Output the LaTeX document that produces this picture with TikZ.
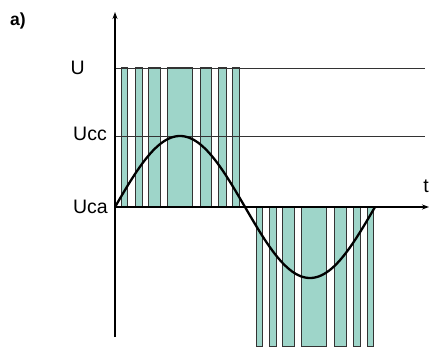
\documentclass[tikz,border=0pt]{standalone}
\usepackage{fontspec}
\setmainfont{Liberation Sans}
\usetikzlibrary{arrows.meta}
\definecolor{pulse}{RGB}{158,213,201}
\tikzset{
  pulsebox/.style={fill=pulse,draw=black!80,line width=1pt},
  level/.style={draw=black!80,line width=0.7pt},
  axisline/.style={draw=black,line width=1.4pt,-{Stealth[length=7pt,width=5pt]}},
  lbl/.style={font=\fontsize{19.5}{22}\selectfont,inner sep=0pt,anchor=base east},
}
\begin{document}
\begin{tikzpicture}[x=1pt,y=-1pt]
\useasboundingbox (0,0) rectangle (430,347);
% positive pulses
\foreach \a/\b in {121/127.5,135.3/142.3,148.7/160.3,167.5/192.3,200/211.7,218.5/226.5,232.5/239}
  \path[pulsebox] (\a,68) rectangle (\b,207);
% negative pulses
\foreach \a/\b in {256/262.3,269.3/276.5,282.5/294.7,301.3/326.5,334.3/346.2,353.3/360.3,367.3/373.5}
  \path[pulsebox] (\a,207) rectangle (\b,346);
% levels
\coordinate (uL) at (115,68); \coordinate (uR) at (425,68);
\coordinate (ucL) at (115,136); \coordinate (ucR) at (425,136);
\draw[level] (uL) -- (uR);
\draw[level] (ucL) -- (ucR);
% sine
\draw[line width=2.3pt,line join=round] plot[domain=0:260,samples=120,smooth] ({115+\x},{207-71*sin(\x*1.384615)});
% axes
\coordinate (o) at (115,207);
\coordinate (ybot) at (115,337);
\coordinate (ytop) at (115,12);
\coordinate (tend) at (429,207);
\draw[axisline] (ybot) -- (ytop);
\draw[axisline] (o) -- (tend);
% labels
\node[lbl] (lU) at (85,75) {U};
\node[lbl] (lUcc) at (107,141) {Ucc};
\node[lbl] (lUca) at (108,213) {Uca};
\node[font=\fontsize{19.5}{22}\selectfont,inner sep=0pt,anchor=base] (lt) at (426,193) {t};
\node[font=\bfseries\fontsize{17.5}{20}\selectfont,inner sep=0pt,anchor=base west] (la) at (10,26) {a)};
\end{tikzpicture}
\end{document}
